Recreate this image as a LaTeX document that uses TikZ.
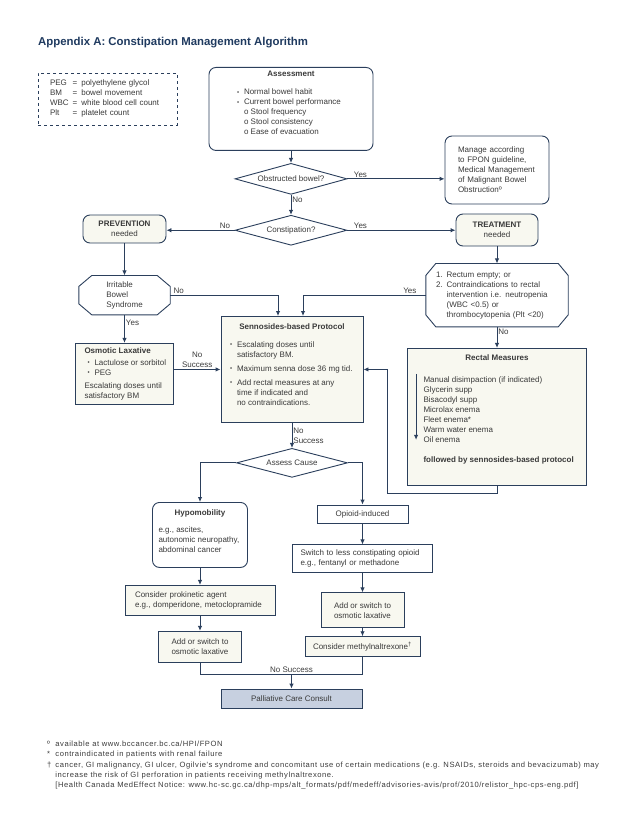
\documentclass[tikz,border=0pt]{standalone}
\usepackage{fontspec}
\setmainfont{Liberation Sans}
\newfontfamily\notesfamily[LetterSpace=7]{Liberation Sans}
\usepackage{xcolor}
\definecolor{navy}{HTML}{2B3F5C}
\definecolor{titleblue}{HTML}{1F3A5F}
\definecolor{ink}{HTML}{3A3A3A}
\definecolor{cream}{HTML}{F8F8F0}
\definecolor{slate}{HTML}{C7D0E0}
\usetikzlibrary{shapes.geometric}
\usetikzlibrary{positioning}
\usetikzlibrary{arrows.meta}
\newcommand{\bodyfont}{\fontsize{8pt}{10pt}\selectfont}
\newcommand{\notefont}{\notesfamily\fontsize{7.6pt}{10.3pt}\selectfont}
\newcommand{\boxtext}[3]{\parbox[c][#2][t]{#1}{\raggedright #3}}
\newcommand{\bul}{\makebox[7pt][l]{\raisebox{0.6pt}{\fontsize{6pt}{6pt}\selectfont\textbullet}}}
% octagon outline around a plain node
\newcommand{\octframe}[3]{\draw[flow] ([xshift=#2]#1.north west) -- ([xshift=-#2]#1.north east) -- ([yshift=-#3]#1.north east) -- ([yshift=#3]#1.south east) -- ([xshift=-#2]#1.south east) -- ([xshift=#2]#1.south west) -- ([yshift=#3]#1.south west) -- ([yshift=-#3]#1.north west) -- cycle;}
\tikzset{
plain_box/.style={rectangle, draw=navy, line width=0.9pt, fill=white, text=ink, font=\bodyfont, inner sep=4pt},
cream_box/.style={plain_box, fill=cream},
round_box/.style={plain_box, rounded corners=7pt},
decision/.style={diamond, aspect=3.6, draw=navy, line width=0.9pt, fill=white, text=ink, font=\bodyfont, inner sep=0pt, minimum width=112pt, minimum height=31pt},
octo/.style={rectangle, text=ink, font=\bodyfont, inner sep=4pt},
flow/.style={draw=navy, line width=0.9pt},
tag/.style={text=ink, font=\bodyfont, inner sep=1pt}
}

\begin{document}
\begin{tikzpicture}[x=1pt, y=-1pt, >={Latex[length=5pt,width=4.5pt]}]
    \useasboundingbox (0,0) rectangle (638,826);
    \node[anchor=west, inner sep=0pt, text=titleblue, font=\bfseries\fontsize{11.4pt}{13pt}\selectfont] (heading) at (38,43) {Appendix A: Constipation Management Algorithm};
    \node[plain_box, dashed, minimum width=139pt, minimum height=52pt, text width=115pt, align=left] (legend) at (107.5,99) {\begin{tabular}{@{}l@{\hspace{4pt}}l@{\hspace{4pt}}l@{}}PEG & = & polyethylene glycol\\ BM & = & bowel movement\\ WBC & = & white blood cell count\\ Plt & = & platelet count\end{tabular}};

    % top of the chart
    \node[round_box, anchor=north] (assessment) at (291,67) {\boxtext{156pt}{75pt}{{\centering\textbf{Assessment}\par}\vspace{8pt}
        \hspace*{24pt}\bul Normal bowel habit\\
        \hspace*{24pt}\bul Current bowel performance\\
        \hspace*{31pt}o Stool frequency\\
        \hspace*{31pt}o Stool consistency\\
        \hspace*{31pt}o Ease of evacuation}};
    \node[decision] (obstructed) [below=12pt of assessment] {Obstructed bowel?};
    \node[decision, minimum height=30pt] (constipation) [below=20pt of obstructed] {Constipation?};
    \node[round_box, minimum width=104pt, minimum height=68pt, text width=78pt, align=left] (manage) at (497,170) {Manage according\\to FPON guideline,\\Medical Management\\of Malignant Bowel\\Obstructionº};
    \node[round_box, fill=cream, minimum width=83pt, minimum height=28pt, align=center] (prevention) at (124.5,229) {\textbf{PREVENTION}\\needed};
    \node[round_box, fill=cream, minimum width=82pt, minimum height=32pt, align=center] (treatment) at (497,230) {\textbf{TREATMENT}\\needed};

    % prevention side
    \node[octo, minimum width=91pt, minimum height=39pt, align=left] (ibs) [below=32pt of prevention] {Irritable\\Bowel\\Syndrome};
    \octframe{ibs}{13pt}{11pt}
    \node[cream_box, inner ysep=4pt] (osmotic) [below=28pt of ibs] {\boxtext{90pt}{53pt}{\hspace*{5pt}\textbf{Osmotic Laxative}\\[2pt]
        \hspace*{8pt}\bul Lactulose or sorbitol\\
        \hspace*{8pt}\bul PEG\\[3pt]
        \hspace*{5pt}Escalating doses until\\
        \hspace*{5pt}satisfactory BM}};

    % treatment side
    \node[octo, minimum width=142pt, minimum height=63pt, text width=122pt, align=left] (rectum) [below=17pt of treatment] {\begin{tabular}{@{}l@{\hspace{4pt}}l@{}}1. & Rectum empty; or\\ 2. & Contraindications to rectal\\ & intervention i.e. neutropenia\\ & (WBC <0.5) or\\ & thrombocytopenia (Plt <20)\end{tabular}};
    \octframe{rectum}{10pt}{12pt}
    \node[cream_box, inner ysep=6pt] (rectal) [below=21pt of rectum] {\boxtext{171pt}{125pt}{{\centering\textbf{Rectal Measures}\par}\vspace{12pt}
        \hspace*{12pt}Manual disimpaction (if indicated)\\
        \hspace*{12pt}Glycerin supp\\
        \hspace*{12pt}Bisacodyl supp\\
        \hspace*{12pt}Microlax enema\\
        \hspace*{12pt}Fleet enema*\\
        \hspace*{12pt}Warm water enema\\
        \hspace*{12pt}Oil enema\\[10pt]
        \hspace*{12pt}\textbf{followed by sennosides-based protocol}}};
    \draw[flow, ->] ([xshift=9pt, yshift=-26pt]rectal.north west) -- ([xshift=9pt, yshift=-92pt]rectal.north west);

    % middle
    \node[cream_box, anchor=north, inner ysep=7pt] (sennosides) at (292,316) {\boxtext{134pt}{92pt}{{\centering\textbf{Sennosides-based Protocol}\par}\vspace{8pt}
        \hspace*{5pt}\bul Escalating doses until\\
        \hspace*{12pt}satisfactory BM.\\[4pt]
        \hspace*{5pt}\bul Maximum senna dose 36 mg tid.\\[4pt]
        \hspace*{5pt}\bul Add rectal measures at any\\
        \hspace*{12pt}time if indicated and\\
        \hspace*{12pt}no contraindications.}};
    \node[decision, minimum width=111pt, minimum height=29pt] (assess_cause) [below=25pt of sennosides] {Assess Cause};

    % causes
    \node[round_box, anchor=north, inner ysep=7pt] (hypo) at (200,502) {\boxtext{87pt}{51pt}{{\centering\textbf{Hypomobility}\par}\vspace{7pt}
        \hspace*{2pt}e.g., ascites,\\
        \hspace*{2pt}autonomic neuropathy,\\
        \hspace*{2pt}abdominal cancer}};
    \node[cream_box, minimum width=150pt, minimum height=30pt, text width=130pt, align=left] (prokinetic) [below=17pt of hypo] {Consider prokinetic agent\\e.g., domperidone, metoclopramide};
    \node[cream_box, minimum width=83pt, minimum height=31pt, align=center] (add_left) [below=15pt of prokinetic] {Add or switch to\\osmotic laxative};
    \node[plain_box, minimum width=91pt, minimum height=18pt] (opioid) at (362.5,514) {Opioid-induced};
    \node[plain_box, minimum width=140pt, minimum height=28pt, text width=124pt, align=left] (switch) [below=21pt of opioid] {Switch to less constipating opioid\\e.g., fentanyl or methadone};
    \node[cream_box, minimum width=83pt, minimum height=35pt, align=center] (add_right) [below=19pt of switch] {Add or switch to\\osmotic laxative};
    \node[cream_box, minimum width=115pt, minimum height=20pt] (methyl) [below=8pt of add_right] {Consider methylnaltrexone\textsuperscript{†}};
    \node[plain_box, fill=slate, minimum width=141pt, minimum height=19pt] (palliative) at (291.5,698.5) {Palliative Care Consult};
    \coordinate (merge) at (291.5,674);
    \coordinate (loop_corner) at (387,493);

    % connectors
    \draw[flow, ->] (assessment) -- (obstructed);
    \draw[flow, ->] (obstructed.east) -- (obstructed.east -| manage.west) node[tag, pos=0, anchor=south west, xshift=5pt] {Yes};
    \draw[flow, ->] (obstructed) -- (constipation) node[tag, pos=0.25, anchor=west] {No};
    \draw[flow, ->] (constipation.west) -- (constipation.west -| prevention.east) node[tag, pos=0, anchor=south east, xshift=-3pt] {No};
    \draw[flow, ->] (constipation.east) -- (constipation.east -| treatment.west) node[tag, pos=0, anchor=south west, xshift=5pt] {Yes};
    \draw[flow, ->] (treatment) -- (rectum);
    \draw[flow, ->] (rectum.west) -| ([xshift=11pt]sennosides.north) node[tag, pos=0, anchor=south east, xshift=-8pt] {Yes};
    \draw[flow, ->] (prevention) -- (ibs);
    \draw[flow, ->] (ibs.east) -| ([xshift=-14pt]sennosides.north) node[tag, pos=0, anchor=south west, xshift=2pt] {No};
    \draw[flow, ->] (ibs) -- (osmotic) node[tag, pos=0.3, anchor=west] {Yes};
    \draw[flow, ->] (osmotic.east |- sennosides.west) -- (sennosides.west) node[tag, midway, above, align=center] {No\\Success};
    \draw[flow, ->] (rectum) -- (rectal) node[tag, pos=0.25, anchor=west] {No};
    \draw[flow, ->] (rectal.south) |- (loop_corner) |- (sennosides.east);
    \draw[flow, ->] (sennosides) -- (assess_cause) node[tag, midway, right, align=left] {No\\Success};
    \draw[flow, ->] (assess_cause.west) -| (hypo.north);
    \draw[flow, ->] (assess_cause.east) -| (opioid.north);
    \draw[flow, ->] (hypo) -- (prokinetic);
    \draw[flow, ->] (prokinetic) -- (add_left);
    \draw[flow, ->] (opioid) -- (switch);
    \draw[flow, ->] (switch) -- (add_right);
    \draw[flow, ->] (add_right) -- (methyl);
    \draw[flow] (add_left.south) |- (merge) node[tag, pos=1, above] {No Success};
    \draw[flow] (methyl.south) |- (merge);
    \draw[flow, ->] (merge) -- (palliative);

    \node[anchor=north west, inner sep=0pt, text=ink, font=\notefont] (notes) at (47,739) {\begin{tabular}{@{}l@{\hspace{4pt}}l@{}}º & available at www.bccancer.bc.ca/HPI/FPON\\
        {*} & contraindicated in patients with renal failure\\
        † & cancer, GI malignancy, GI ulcer, Ogilvie's syndrome and concomitant use of certain medications (e.g. NSAIDs, steroids and bevacizumab) may\\
        & increase the risk of GI perforation in patients receiving methylnaltrexone.\\
        & [Health Canada MedEffect Notice: www.hc-sc.gc.ca/dhp-mps/alt\_formats/pdf/medeff/advisories-avis/prof/2010/relistor\_hpc-cps-eng.pdf]\end{tabular}};
\end{tikzpicture}
\end{document}
